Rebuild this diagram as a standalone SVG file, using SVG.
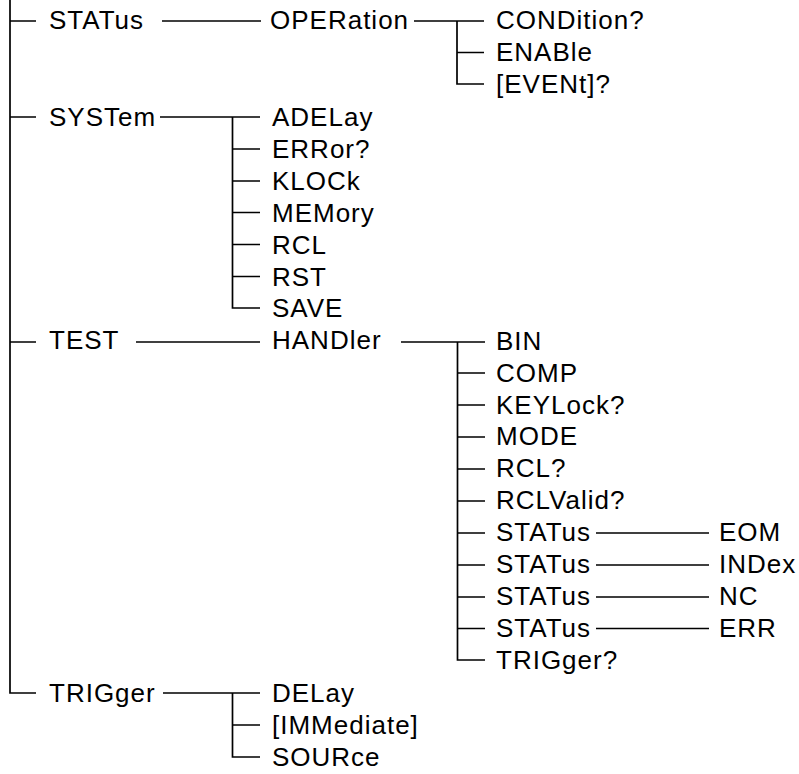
<svg xmlns="http://www.w3.org/2000/svg" width="799" height="774" viewBox="0 0 799 774">
<style>
text{font-family:"Liberation Sans",Arial,sans-serif;font-size:26px;letter-spacing:1px;fill:#000}
.c path{fill:none;stroke:#000;stroke-width:1.7}
</style>
<rect width="799" height="774" fill="#fff"/>
<g class="c" id="connectors">
<path d="M10 0V693H36M10 21H36M10 117H36M10 342H36"/>
<path d="M162 21H261"/>
<path d="M414 21H484M457 21V84H484M457 52.5H484"/>
<path d="M160 117H260M232.5 117V308H260M232.5 149H260M232.5 181H260M232.5 212.5H260M232.5 244.5H260M232.5 276.5H260"/>
<path d="M136 342H260"/>
<path d="M401 342H485M457.5 342V660H485M457.5 373H485M457.5 405H485M457.5 437H485M457.5 469H485M457.5 501H485M457.5 533H485M457.5 565H485M457.5 597H485M457.5 628.5H485"/>
<path d="M596 533H709M596 565H709M596 597H709M596 628.5H709"/>
<path d="M163 693H260M232.5 693V757H260M232.5 725H260"/>
</g>
<g id="n-status"><text x="49" y="29">STATus</text></g>
<g id="n-operation"><text x="270" y="29">OPERation</text></g>
<g id="n-condition"><text x="496" y="29">CONDition?</text></g>
<g id="n-enable"><text x="496" y="61">ENABle</text></g>
<g id="n-event"><text x="496" y="92.5">[EVENt]?</text></g>
<g id="n-system"><text x="49" y="126">SYSTem</text></g>
<g id="n-adelay"><text x="272" y="126">ADELay</text></g>
<g id="n-error"><text x="272" y="158">ERRor?</text></g>
<g id="n-klock"><text x="272" y="190">KLOCk</text></g>
<g id="n-memory"><text x="272" y="222">MEMory</text></g>
<g id="n-rcl"><text x="272" y="253.5">RCL</text></g>
<g id="n-rst"><text x="272" y="285.5">RST</text></g>
<g id="n-save"><text x="272" y="317">SAVE</text></g>
<g id="n-test"><text x="49" y="348.5">TEST</text></g>
<g id="n-handler"><text x="272" y="348.5">HANDler</text></g>
<g id="n-bin"><text x="496" y="350">BIN</text></g>
<g id="n-comp"><text x="496" y="381.5">COMP</text></g>
<g id="n-keylock"><text x="496" y="413.5">KEYLock?</text></g>
<g id="n-mode"><text x="496" y="445">MODE</text></g>
<g id="n-rclq"><text x="496" y="477">RCL?</text></g>
<g id="n-rclvalid"><text x="496" y="509">RCLValid?</text></g>
<g id="n-status1"><text x="496" y="541">STATus</text></g>
<g id="n-eom"><text x="719" y="541">EOM</text></g>
<g id="n-status2"><text x="496" y="573">STATus</text></g>
<g id="n-index"><text x="719" y="573">INDex</text></g>
<g id="n-status3"><text x="496" y="605">STATus</text></g>
<g id="n-nc"><text x="719" y="605">NC</text></g>
<g id="n-status4"><text x="496" y="637">STATus</text></g>
<g id="n-err"><text x="719" y="637">ERR</text></g>
<g id="n-triggerq"><text x="496" y="668.5">TRIGger?</text></g>
<g id="n-trigger"><text x="49" y="701.5">TRIGger</text></g>
<g id="n-delay"><text x="272" y="701.5">DELay</text></g>
<g id="n-immediate"><text x="272" y="733.5">[IMMediate]</text></g>
<g id="n-source"><text x="272" y="765.5">SOURce</text></g>
</svg>
